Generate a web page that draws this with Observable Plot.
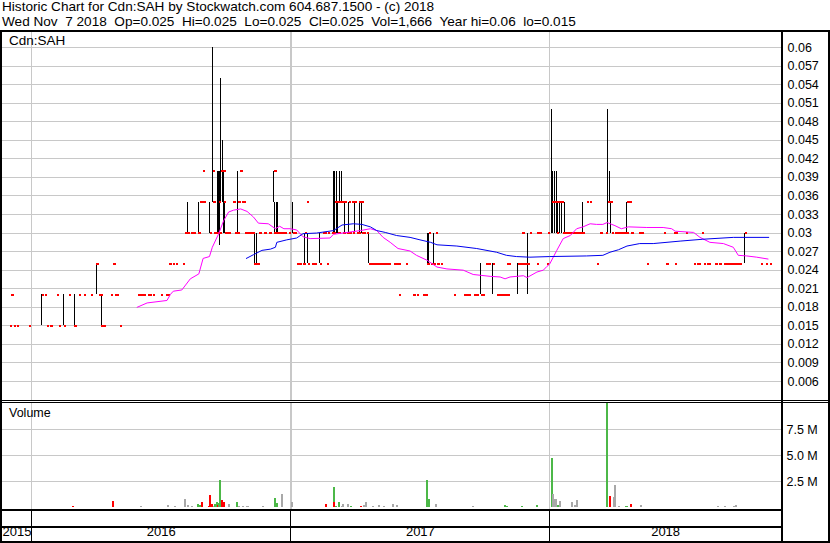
<!DOCTYPE html>
<html><head><meta charset="utf-8">
<script src="https://cdn.jsdelivr.net/npm/d3@7"></script>
<script src="https://cdn.jsdelivr.net/npm/@observablehq/plot@0.6"></script>
<style>
body{margin:0;background:#fff;}
#wrap{position:relative;width:830px;height:543px;overflow:hidden;background:#fff;font-family:Arial,"Liberation Sans",sans-serif;color:#000;}
.t{position:absolute;font-size:13.6px;white-space:pre;line-height:14px;}
.ln{position:absolute;background:#000;}
#wrap svg{position:absolute;left:0;}
</style></head><body><div id="wrap"></div>
<script>
// ---------- text ----------
const titleLine1 = "Historic Chart for Cdn:SAH by Stockwatch.com 604.687.1500 - (c) 2018";
const titleLine2 = "Wed Nov  7 2018  Op=0.025  Hi=0.025  Lo=0.025  Cl=0.025  Vol=1,666  Year hi=0.06  lo=0.015";
const symbolLabel = "Cdn:SAH";
const volumeLabel = "Volume";

// ---------- axes ----------
const xStart = "2015-11-21", xEnd = "2018-11-24";
const yearStarts = ["2016-01-01","2017-01-01","2018-01-01"];
const yearLabels = ["2015","2016","2017","2018"];
const priceTicks = [0.006,0.009,0.012,0.015,0.018,0.021,0.024,0.027,0.03,0.033,0.036,0.039,0.042,0.045,0.048,0.051,0.054,0.057,0.06];
const priceTickLabels = ["0.006","0.009","0.012","0.015","0.018","0.021","0.024","0.027","0.03","0.033","0.036","0.039","0.042","0.045","0.048","0.051","0.054","0.057","0.06"];
const volTicks = [2.5,5,7.5];
const volTickLabels = ["2.5 M","5.0 M","7.5 M"];

// ---------- daily trades: [date, low, high, close] ----------
const trades2015 = [
["2015-12-01",.015,.015,.015],["2015-12-03",.02,.02,.02],["2015-12-07",.015,.015,.015],
["2015-12-11",.015,.015,.015],["2015-12-28",.015,.015,.015]
];
const trades2016 = [
["2016-01-15",.015,.02,.02],["2016-01-19",.02,.02,.02],["2016-01-22",.015,.015,.015],["2016-01-27",.015,.015,.015],
["2016-02-05",.02,.02,.02],["2016-02-08",.015,.015,.015],["2016-02-15",.015,.02,.015],["2016-02-22",.02,.02,.02],
["2016-03-01",.015,.02,.015],["2016-03-07",.02,.02,.02],["2016-03-14",.02,.02,.02],["2016-03-24",.02,.02,.02],
["2016-04-01",.02,.025,.025],["2016-04-04",.02,.02,.02],["2016-04-07",.02,.02,.02],["2016-04-08",.015,.02,.015],
["2016-04-11",.015,.015,.015],["2016-04-12",.015,.015,.015],["2016-04-21",.02,.02,.02],["2016-04-25",.025,.025,.025],
["2016-04-27",.02,.02,.02],["2016-04-29",.02,.02,.02],["2016-05-04",.015,.015,.015],["2016-05-30",.02,.02,.02],
["2016-06-02",.02,.02,.02],["2016-06-06",.02,.02,.02],["2016-06-07",.02,.02,.02],["2016-06-13",.02,.02,.02],
["2016-06-15",.02,.02,.02],["2016-06-20",.02,.02,.02],["2016-07-01",.02,.02,.02],["2016-07-08",.02,.02,.02],
["2016-07-11",.02,.02,.02],["2016-07-12",.025,.025,.025],["2016-07-14",.025,.025,.025],["2016-07-18",.025,.025,.025],
["2016-07-22",.025,.025,.025],["2016-08-01",.025,.025,.025],["2016-08-04",.03,.03,.03],["2016-08-05",.03,.03,.03],
["2016-08-08",.03,.035,.03],["2016-08-12",.03,.03,.03],["2016-08-15",.03,.03,.03],["2016-08-17",.03,.03,.03],
["2016-08-22",.03,.03,.03],["2016-08-23",.03,.035,.03],["2016-08-25",.035,.035,.035],["2016-08-26",.035,.035,.035],
["2016-08-29",.04,.04,.04],["2016-08-30",.035,.035,.035],["2016-09-08",.03,.035,.03],["2016-09-12",.035,.06,.04],
["2016-09-13",.035,.035,.035],["2016-09-14",.03,.03,.03],["2016-09-15",.03,.03,.03],["2016-09-16",.03,.03,.03],
["2016-09-19",.03,.04,.03],["2016-09-20",.03,.04,.03],["2016-09-21",.03,.04,.035],["2016-09-22",.028,.04,.03],
["2016-09-23",.035,.055,.04],["2016-09-26",.04,.045,.04],["2016-09-27",.035,.045,.04],["2016-09-28",.03,.04,.035],
["2016-09-29",.03,.035,.03],["2016-09-30",.03,.03,.03],["2016-10-03",.03,.03,.03],["2016-10-05",.03,.03,.03],
["2016-10-10",.035,.035,.035],["2016-10-12",.035,.035,.035],["2016-10-13",.03,.03,.03],["2016-10-14",.03,.03,.03],
["2016-10-17",.03,.035,.03],["2016-10-18",.035,.04,.035],["2016-10-19",.035,.035,.035],["2016-10-21",.04,.04,.04],
["2016-10-24",.035,.035,.035],["2016-10-26",.035,.035,.035],["2016-10-28",.03,.03,.03],["2016-10-31",.03,.03,.03],
["2016-11-01",.03,.03,.03],["2016-11-03",.03,.03,.03],["2016-11-04",.03,.03,.03],["2016-11-07",.03,.03,.03],
["2016-11-09",.025,.025,.025],["2016-11-11",.025,.03,.025],["2016-11-14",.025,.03,.025],["2016-11-17",.03,.03,.03],
["2016-11-23",.03,.03,.03],["2016-11-25",.03,.03,.03],["2016-11-30",.03,.03,.03],["2016-12-02",.03,.03,.03],
["2016-12-07",.03,.03,.03],["2016-12-08",.035,.04,.04],["2016-12-09",.03,.035,.03],["2016-12-12",.03,.035,.03],
["2016-12-13",.03,.035,.03],["2016-12-14",.03,.03,.03],["2016-12-15",.03,.03,.03],["2016-12-16",.03,.03,.03],
["2016-12-19",.03,.03,.03],["2016-12-20",.03,.03,.03],["2016-12-21",.03,.03,.03],["2016-12-22",.03,.03,.03],
["2016-12-23",.03,.03,.03],["2016-12-28",.03,.03,.03]
];
const trades2017 = [
["2017-01-03",.03,.035,.03],["2017-01-05",.03,.03,.03],["2017-01-06",.03,.03,.03],["2017-01-09",.025,.025,.025],
["2017-01-10",.025,.025,.025],["2017-01-13",.025,.025,.025],["2017-01-18",.025,.025,.025],["2017-01-20",.025,.03,.03],
["2017-01-23",.035,.035,.035],["2017-01-24",.025,.03,.025],["2017-01-30",.025,.025,.025],["2017-02-01",.025,.025,.025],
["2017-02-03",.025,.025,.025],["2017-02-10",.025,.03,.025],["2017-02-15",.03,.03,.03],["2017-02-17",.03,.03,.03],
["2017-02-20",.025,.025,.025],["2017-02-22",.03,.03,.03],["2017-02-28",.03,.03,.03],["2017-03-01",.03,.03,.03],
["2017-03-02",.03,.04,.03],["2017-03-03",.03,.04,.035],["2017-03-06",.03,.04,.035],["2017-03-07",.035,.035,.035],
["2017-03-08",.03,.035,.03],["2017-03-09",.03,.03,.03],["2017-03-10",.035,.04,.035],["2017-03-13",.035,.04,.035],
["2017-03-14",.035,.035,.035],["2017-03-15",.03,.03,.03],["2017-03-16",.03,.03,.03],["2017-03-17",.03,.035,.035],
["2017-03-20",.03,.03,.03],["2017-03-21",.03,.03,.03],["2017-03-22",.03,.03,.03],["2017-03-23",.03,.035,.035],
["2017-03-24",.03,.03,.03],["2017-03-27",.035,.035,.035],["2017-03-28",.035,.035,.035],["2017-03-29",.03,.03,.03],
["2017-03-31",.03,.035,.035],["2017-04-03",.03,.03,.03],["2017-04-04",.03,.03,.03],["2017-04-05",.03,.03,.03],
["2017-04-06",.03,.03,.03],["2017-04-07",.03,.035,.035],["2017-04-10",.03,.035,.035],["2017-04-11",.03,.03,.03],
["2017-04-12",.03,.03,.03],["2017-04-13",.03,.03,.03],["2017-04-17",.03,.03,.03],["2017-04-21",.025,.03,.025],
["2017-04-24",.025,.025,.025],["2017-04-25",.025,.025,.025],["2017-04-26",.025,.025,.025],["2017-04-27",.025,.025,.025],
["2017-04-28",.025,.025,.025],["2017-05-01",.025,.025,.025],["2017-05-02",.025,.025,.025],["2017-05-03",.025,.025,.025],
["2017-05-04",.025,.025,.025],["2017-05-05",.025,.025,.025],["2017-05-08",.025,.025,.025],["2017-05-12",.025,.025,.025],
["2017-05-15",.025,.025,.025],["2017-05-16",.025,.025,.025],["2017-05-17",.025,.025,.025],["2017-05-19",.025,.025,.025],
["2017-05-26",.025,.025,.025],["2017-05-29",.025,.025,.025],["2017-06-01",.025,.025,.025],["2017-06-02",.02,.02,.02],
["2017-06-12",.025,.025,.025],["2017-06-21",.02,.02,.02],["2017-06-23",.02,.02,.02],["2017-06-27",.02,.02,.02],
["2017-07-05",.02,.02,.02],["2017-07-07",.02,.02,.02],["2017-07-10",.02,.02,.02],["2017-07-12",.025,.03,.025],
["2017-07-13",.025,.03,.025],["2017-07-14",.025,.03,.03],["2017-07-17",.025,.025,.025],["2017-07-18",.025,.025,.025],
["2017-07-19",.025,.025,.025],["2017-07-20",.025,.025,.025],["2017-07-21",.025,.03,.025],["2017-07-24",.03,.03,.03],
["2017-07-25",.025,.025,.025],["2017-07-27",.025,.025,.025],["2017-07-31",.025,.025,.025],["2017-08-18",.02,.02,.02],
["2017-09-01",.02,.02,.02],["2017-09-05",.02,.02,.02],["2017-09-07",.02,.02,.02],["2017-09-08",.02,.02,.02],
["2017-09-15",.02,.02,.02],["2017-09-18",.02,.02,.02],["2017-09-20",.02,.02,.02],["2017-09-25",.02,.02,.02],
["2017-09-26",.02,.025,.02],["2017-09-28",.02,.02,.02],["2017-10-02",.025,.025,.025],["2017-10-04",.025,.025,.025],
["2017-10-06",.025,.025,.025],["2017-10-12",.02,.025,.025],["2017-10-18",.02,.02,.02],["2017-10-20",.02,.02,.02],
["2017-10-23",.02,.02,.02],["2017-10-27",.02,.02,.02],["2017-10-30",.02,.02,.02],["2017-11-01",.025,.025,.025],
["2017-11-02",.02,.02,.02],["2017-11-03",.025,.025,.025],["2017-11-17",.02,.025,.025],["2017-11-20",.025,.025,.025],
["2017-11-21",.025,.025,.025],["2017-11-22",.025,.025,.025],["2017-11-23",.03,.03,.03],["2017-11-24",.025,.025,.025],
["2017-11-27",.025,.025,.025],["2017-11-28",.025,.025,.025],["2017-11-29",.025,.025,.025],["2017-11-30",.02,.03,.025],
["2017-12-04",.03,.03,.03],["2017-12-13",.025,.025,.025],["2017-12-14",.03,.03,.03],["2017-12-18",.03,.03,.03],
["2017-12-28",.025,.025,.025],["2017-12-29",.03,.03,.03]
];
const trades2018 = [
["2018-01-04",.03,.05,.035],["2018-01-05",.03,.04,.035],["2018-01-08",.03,.04,.035],["2018-01-10",.03,.04,.035],
["2018-01-11",.03,.03,.03],["2018-01-12",.03,.035,.035],["2018-01-15",.03,.035,.035],["2018-01-16",.035,.035,.035],
["2018-01-17",.035,.035,.035],["2018-01-18",.03,.035,.035],["2018-01-19",.03,.03,.03],["2018-01-22",.03,.035,.03],
["2018-01-23",.03,.03,.03],["2018-01-24",.03,.03,.03],["2018-01-25",.03,.03,.03],["2018-01-26",.03,.03,.03],
["2018-01-29",.03,.03,.03],["2018-01-30",.03,.03,.03],["2018-01-31",.03,.03,.03],["2018-02-01",.03,.03,.03],
["2018-02-02",.03,.03,.03],["2018-02-05",.03,.03,.03],["2018-02-06",.03,.03,.03],["2018-02-07",.03,.03,.03],
["2018-02-08",.03,.03,.03],["2018-02-09",.03,.03,.03],["2018-02-12",.03,.03,.03],["2018-02-13",.03,.03,.03],
["2018-02-14",.03,.03,.03],["2018-02-16",.03,.035,.03],["2018-02-22",.035,.035,.035],["2018-02-26",.035,.035,.035],
["2018-03-08",.025,.025,.025],["2018-03-13",.03,.03,.03],["2018-03-21",.03,.03,.03],["2018-03-23",.03,.05,.035],
["2018-03-26",.035,.04,.035],["2018-03-27",.035,.04,.035],["2018-03-28",.03,.035,.035],["2018-03-29",.03,.03,.03],
["2018-04-02",.03,.03,.03],["2018-04-03",.03,.03,.03],["2018-04-04",.03,.03,.03],["2018-04-05",.03,.03,.03],
["2018-04-06",.03,.03,.03],["2018-04-09",.03,.03,.03],["2018-04-10",.03,.03,.03],["2018-04-11",.03,.03,.03],
["2018-04-12",.03,.03,.03],["2018-04-13",.03,.03,.03],["2018-04-16",.03,.03,.03],["2018-04-17",.03,.03,.03],
["2018-04-18",.03,.03,.03],["2018-04-19",.03,.035,.03],["2018-04-20",.035,.035,.035],["2018-04-23",.035,.035,.035],
["2018-04-25",.03,.03,.03],["2018-04-26",.03,.03,.03],["2018-05-07",.03,.03,.03],["2018-05-09",.03,.03,.03],
["2018-05-11",.03,.03,.03],["2018-05-18",.025,.025,.025],["2018-06-11",.03,.03,.03],["2018-06-14",.025,.025,.025],
["2018-06-25",.03,.03,.03],["2018-06-26",.025,.025,.025],["2018-06-27",.03,.03,.03],["2018-07-12",.03,.03,.03],
["2018-07-23",.025,.025,.025],["2018-07-27",.025,.025,.025],["2018-07-30",.025,.025,.025],["2018-08-03",.03,.03,.03],
["2018-08-06",.025,.025,.025],["2018-08-10",.025,.025,.025],["2018-08-13",.025,.025,.025],["2018-08-22",.025,.025,.025],
["2018-08-23",.025,.025,.025],["2018-08-27",.025,.025,.025],["2018-08-29",.025,.025,.025],["2018-09-04",.025,.025,.025],
["2018-09-06",.025,.025,.025],["2018-09-07",.025,.025,.025],["2018-09-10",.025,.025,.025],["2018-09-11",.025,.025,.025],
["2018-09-13",.025,.025,.025],["2018-09-14",.025,.025,.025],["2018-09-17",.025,.025,.025],["2018-09-18",.025,.025,.025],
["2018-09-19",.025,.025,.025],["2018-09-20",.025,.025,.025],["2018-09-21",.025,.025,.025],["2018-09-24",.025,.025,.025],
["2018-09-25",.025,.025,.025],["2018-09-26",.025,.025,.025],["2018-10-03",.025,.03,.03],["2018-10-25",.025,.025,.025],
["2018-11-01",.025,.025,.025],["2018-11-07",.025,.025,.025]
];

// ---------- moving averages: [date, value] ----------
const maShort = [
["2016-05-29",.0180],["2016-06-12",.0187],["2016-07-10",.0191],["2016-07-15",.0201],["2016-07-19",.0206],["2016-07-31",.0208],
["2016-08-12",.0226],["2016-08-24",.0234],["2016-08-30",.0259],["2016-09-08",.0262],["2016-09-12",.0277],["2016-09-21",.0299],
["2016-09-28",.0320],["2016-10-05",.0334],["2016-10-12",.0337],["2016-10-22",.0339],["2016-10-31",.0335],["2016-11-09",.0326],
["2016-11-16",.0316],["2016-11-30",.0315],["2016-12-10",.0307],["2016-12-16",.0311],["2016-12-22",.0307],["2016-12-31",.0307],
["2017-01-09",.0305],["2017-01-18",.0294],["2017-01-28",.0291],["2017-02-25",.0292],["2017-03-02",.0298],["2017-03-21",.0301],
["2017-04-09",.0304],["2017-04-23",.0307],["2017-05-02",.0304],["2017-05-11",.0293],["2017-05-21",.0285],["2017-06-01",.0275],
["2017-06-18",.0271],["2017-06-27",.0264],["2017-07-12",.0256],["2017-07-26",.0245],["2017-08-09",.0242],["2017-09-01",.0240],
["2017-09-15",.0233],["2017-10-09",.0230],["2017-10-23",.0229],["2017-10-30",.0226],["2017-11-06",.0229],["2017-11-25",.0231],
["2017-11-30",.0228],["2017-12-14",.0237],["2017-12-23",.0240],["2017-12-28",.0246],["2018-01-01",.0250],["2018-01-11",.0272],
["2018-01-20",.0291],["2018-01-30",.0296],["2018-02-08",.0307],["2018-02-17",.0310],["2018-02-27",.0315],["2018-03-08",.0314],
["2018-03-17",.0314],["2018-03-23",.0317],["2018-04-03",.0312],["2018-04-12",.0307],["2018-04-22",.0310],["2018-05-18",.0309],
["2018-06-10",.0309],["2018-06-22",.0307],["2018-06-27",.0303],["2018-07-23",.0301],["2018-08-01",.0293],["2018-08-15",.0285],
["2018-09-03",.0283],["2018-09-17",.0277],["2018-09-24",.0264],["2018-10-06",.0263],["2018-10-20",.0261],["2018-11-05",.0258]
];
const maLong = [
["2016-10-30",.0259],["2016-11-09",.0265],["2016-11-21",.0272],["2016-12-03",.0274],["2016-12-10",.0277],["2016-12-12",.0285],
["2016-12-26",.0289],["2017-01-09",.0292],["2017-01-18",.0299],["2017-02-06",.0300],["2017-03-02",.0304],["2017-03-14",.0313],
["2017-03-30",.0315],["2017-04-11",.0314],["2017-04-23",.0310],["2017-05-02",.0304],["2017-05-14",.0301],["2017-05-30",.0296],
["2017-06-18",.0293],["2017-07-02",.0289],["2017-07-17",.0285],["2017-07-26",.0281],["2017-08-23",.0279],["2017-09-20",.0275],
["2017-10-18",.0269],["2017-11-01",.0264],["2017-11-15",.0262],["2017-12-04",.0261],["2018-01-01",.0262],["2018-02-22",.0263],
["2018-03-17",.0264],["2018-03-27",.0269],["2018-04-08",.0273],["2018-04-20",.0279],["2018-05-08",.0283],["2018-05-27",.0283],
["2018-07-04",.0287],["2018-08-05",.0290],["2018-09-17",.0293],["2018-11-06",.0293]
];

// ---------- volume (millions): [date, volume, direction] ----------
const volume = [
["2016-02-29",0.1,"down"],["2016-04-25",0.6,"down"],["2016-06-03",0.1,"flat"],["2016-07-11",0.2,"flat"],["2016-07-21",0.1,"flat"],
["2016-08-05",0.8,"flat"],["2016-08-08",0.15,"flat"],["2016-08-15",0.1,"flat"],["2016-08-23",0.3,"up"],["2016-08-26",0.2,"up"],
["2016-08-29",0.5,"down"],["2016-09-08",0.1,"down"],["2016-09-09",1.2,"down"],["2016-09-12",0.3,"down"],["2016-09-14",0.1,"flat"],
["2016-09-16",0.25,"up"],["2016-09-19",0.45,"up"],["2016-09-20",0.2,"down"],["2016-09-22",0.4,"up"],["2016-09-23",2.6,"up"],
["2016-09-26",0.7,"down"],["2016-09-28",0.5,"down"],["2016-10-05",0.3,"flat"],["2016-10-17",0.5,"up"],["2016-10-19",0.1,"flat"],
["2016-10-25",0.1,"flat"],["2016-10-31",0.1,"flat"],["2016-11-01",0.1,"flat"],["2016-11-22",0.1,"flat"],["2016-12-09",0.9,"up"],
["2016-12-12",0.4,"up"],["2016-12-20",1.25,"flat"],["2017-01-03",0.5,"flat"],["2017-02-20",0.25,"down"],["2017-03-02",1.9,"up"],
["2017-03-03",0.5,"down"],["2017-03-06",0.1,"up"],["2017-03-10",0.5,"up"],["2017-03-14",0.1,"flat"],["2017-03-16",0.3,"flat"],
["2017-03-22",0.3,"flat"],["2017-03-27",0.1,"up"],["2017-04-10",0.1,"down"],["2017-04-14",0.15,"flat"],["2017-04-17",0.5,"flat"],
["2017-04-27",0.1,"flat"],["2017-05-05",0.2,"flat"],["2017-05-12",0.1,"flat"],["2017-05-25",0.3,"flat"],["2017-05-31",0.2,"flat"],
["2017-07-12",2.6,"up"],["2017-07-14",0.8,"up"],["2017-07-24",0.3,"flat"],["2017-09-15",0.1,"flat"],["2017-10-30",0.2,"up"],
["2017-11-02",0.05,"up"],["2017-11-23",0.1,"up"],["2017-12-14",0.2,"up"],["2018-01-04",4.7,"up"],["2018-01-05",1.25,"flat"],
["2018-01-08",0.75,"flat"],["2018-01-09",0.75,"flat"],["2018-01-10",0.75,"flat"],["2018-01-12",0.2,"up"],["2018-01-15",0.55,"flat"],
["2018-01-16",0.2,"flat"],["2018-02-02",0.5,"flat"],["2018-02-05",0.2,"flat"],["2018-02-08",0.7,"flat"],["2018-03-23",10,"up"],
["2018-03-27",1.05,"down"],["2018-04-02",1.0,"flat"],["2018-04-03",2.1,"flat"],["2018-04-09",0.1,"flat"],["2018-04-18",0.1,"up"],
["2018-04-20",0.1,"up"],["2018-04-25",0.3,"down"],["2018-05-10",0.2,"flat"],["2018-08-27",0.1,"flat"],["2018-09-05",0.1,"flat"],
["2018-09-18",0.1,"flat"],["2018-09-21",0.2,"flat"]
];

// ---------- build ----------
const parse = d3.utcParse("%Y-%m-%d");
const trades = [...trades2015, ...trades2016, ...trades2017, ...trades2018]
  .map(([d, lo, hi, cl]) => ({date: parse(d), lo, hi, cl}));
const ranged = trades.filter(d => d.hi > d.lo);
const shortLine = maShort.map(([d, v]) => ({date: parse(d), v}));
const longLine = maLong.map(([d, v]) => ({date: parse(d), v}));
const vols = volume.map(([d, v, t]) => ({date: parse(d), v, t}));
const bounds = yearStarts.map(parse);
const segEdges = [parse(xStart), ...bounds, parse(xEnd)];
const yearMid = yearLabels.map((label, i) => ({label, date: new Date((+segEdges[i] + +segEdges[i + 1]) / 2)}));

const FONT = "Arial, 'Liberation Sans', sans-serif";
const xs = {type: "utc", domain: [parse(xStart), parse(xEnd)], range: [2, 781], axis: null};
const baseStyle = {background: "transparent", overflow: "visible", fontFamily: FONT, color: "#000"};
const wrap = document.getElementById("wrap");

const price = Plot.plot({
  width: 830, height: 543,
  marginLeft: 2, marginRight: 49, marginTop: 32, marginBottom: 143,
  style: {...baseStyle, fontSize: "12.5px"},
  x: xs,
  y: {domain: [0.006, 0.06], range: [381, 47], axis: null},
  marks: [
    Plot.ruleY(priceTicks, {stroke: "#c8c8c8", shapeRendering: "crispEdges"}),
    Plot.ruleX(bounds, {stroke: "#c8c8c8", strokeWidth: 1.5, shapeRendering: "crispEdges"}),
    Plot.axisY(priceTicks, {anchor: "right", label: null, tickSize: 0, tickPadding: 6, tickFormat: (d, i) => priceTickLabels[i], fill: "#000", fontSize: 12.5}),
    Plot.ruleX(ranged, {x: "date", y1: "lo", y2: "hi", stroke: "#000", strokeWidth: 1, shapeRendering: "crispEdges"}),
    Plot.dot(trades, {x: "date", y: "cl", symbol: "square", r: 1.25, fill: "#ff0000", dx: 1.5, shapeRendering: "crispEdges"}),
    Plot.line(shortLine, {x: "date", y: "v", stroke: "#ff00ff", strokeWidth: 1}),
    Plot.line(longLine, {x: "date", y: "v", stroke: "#0000ee", strokeWidth: 1})
  ]
});
price.style.top = "0px";
wrap.appendChild(price);

const vol = Plot.plot({
  width: 830, height: 543,
  marginLeft: 2, marginRight: 49, marginTop: 403, marginBottom: 34,
  style: {...baseStyle, fontSize: "12.5px"},
  x: xs,
  y: {domain: [0, 10], range: [507, 403], axis: null, label: null},
  color: {domain: ["up", "down", "flat"], range: ["#4cb848", "#ff0000", "#a8a8a8"]},
  marks: [
    Plot.ruleY(volTicks, {stroke: "#c8c8c8", shapeRendering: "crispEdges"}),
    Plot.ruleX(bounds, {stroke: "#c8c8c8", strokeWidth: 1.5, shapeRendering: "crispEdges"}),
    Plot.axisY(volTicks, {anchor: "right", label: null, tickSize: 0, tickPadding: 5, tickFormat: (d, i) => volTickLabels[i], fill: "#000", fontSize: 12.5}),
    Plot.ruleX(vols, {x: "date", y1: 0, y2: "v", stroke: "t", strokeWidth: 2, shapeRendering: "crispEdges"})
  ]
});
vol.style.top = "0px";
wrap.appendChild(vol);

const years = Plot.plot({
  width: 830, height: 34,
  marginLeft: 2, marginRight: 49, marginTop: 0, marginBottom: 0,
  style: {...baseStyle, fontSize: "13px"},
  x: xs,
  marks: [
    Plot.ruleX(bounds, {stroke: "#000", strokeWidth: 1, shapeRendering: "crispEdges"}),
    Plot.text(yearMid, {x: "date", text: "label", frameAnchor: "bottom", dy: -8, fill: "#000", fontSize: 13})
  ]
});
years.style.top = "509px";
wrap.appendChild(years);

// text & frame
function addText(txt, left, top, size) {
  const d = document.createElement("div");
  d.className = "t"; d.textContent = txt;
  d.style.left = left + "px"; d.style.top = top + "px";
  if (size) d.style.fontSize = size + "px";
  wrap.appendChild(d);
}
addText(titleLine1, 2, 0);
addText(titleLine2, 2, 15);
addText(symbolLabel, 9, 34, 13.5);
addText(volumeLabel, 9, 406, 12.5);

function line(l, t, w, h) {
  const d = document.createElement("div");
  d.className = "ln";
  Object.assign(d.style, {left: l + "px", top: t + "px", width: w + "px", height: h + "px"});
  wrap.appendChild(d);
}
line(0, 30, 830, 2);
line(0, 30, 2, 513);
line(828, 30, 2, 513);
line(781, 30, 2, 513);
line(0, 400, 830, 1);
line(0, 402, 830, 1);
line(0, 509, 783, 2);
line(0, 526, 783, 2);
line(0, 541, 830, 2);
</script></body></html>
